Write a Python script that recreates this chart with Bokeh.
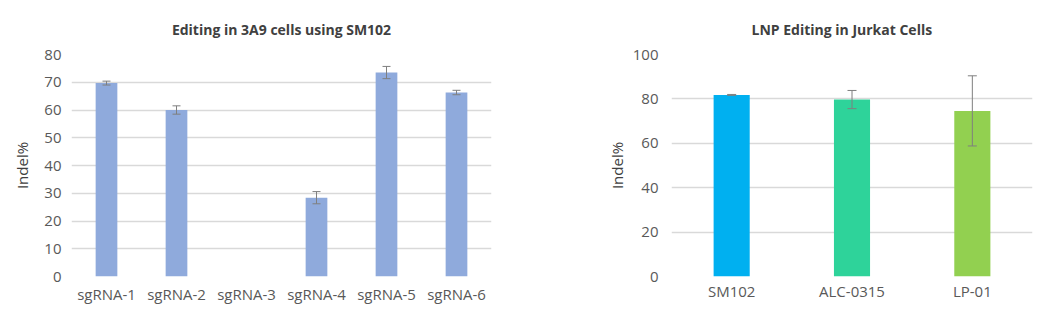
from bokeh.plotting import figure
from bokeh.models import ColumnDataSource, Whisker, TeeHead, FixedTicker, Range1d, FactorRange
from bokeh.layouts import row
from bokeh.embed import file_html
from bokeh.resources import INLINE

# ---- data ----
sg_title = "Editing in 3A9 cells using SM102"
sg_labels = ["sgRNA-1", "sgRNA-2", "sgRNA-3", "sgRNA-4", "sgRNA-5", "sgRNA-6"]
sg_values = [69.7, 60.0, 0.0, 28.4, 73.5, 66.3]
sg_errors = [0.7, 1.5, 0.0, 2.2, 2.2, 0.8]
sg_ticks = [0, 10, 20, 30, 40, 50, 60, 70, 80]

lnp_title = "LNP Editing in Jurkat Cells"
lnp_labels = ["SM102", "ALC-0315", "LP-01"]
lnp_values = [81.8, 79.7, 74.6]
lnp_errors = [0.2, 4.1, 15.8]
lnp_colors = ["#00B0F0", "#2ED39A", "#92D050"]
lnp_ticks = [0, 20, 40, 60, 80, 100]

FONT = "Open Sans"
TICK_COLOR = "#595959"
GRID = "#d9d9d9"
ERR = "#7f7f7f"


def style(p, ticks, title):
    p.title.text = title
    p.title.align = "center"
    p.title.vertical_align = "top"
    p.title.standoff = 27
    p.title.text_font = FONT
    p.title.text_font_size = "14px"
    p.title.text_font_style = "bold"
    p.title.text_color = "#404040"
    p.outline_line_color = None
    p.xgrid.grid_line_color = None
    p.ygrid.grid_line_color = GRID
    p.ygrid.grid_line_width = 1.5
    p.yaxis.ticker = FixedTicker(ticks=ticks)
    for ax in (p.xaxis[0], p.yaxis[0]):
        ax.axis_line_color = None
        ax.major_tick_line_color = None
        ax.minor_tick_line_color = None
        ax.major_label_text_font = FONT
        ax.major_label_text_font_size = "15px"
        ax.major_label_text_color = TICK_COLOR
    p.yaxis.axis_label = "Indel%"
    p.yaxis.axis_label_text_font = FONT
    p.yaxis.axis_label_text_font_size = "15px"
    p.yaxis.axis_label_text_font_style = "normal"
    p.yaxis.axis_label_text_color = "#404040"
    p.x_range.range_padding = 0


# ---- left chart ----
p1 = figure(width=530, height=315, x_range=FactorRange(*sg_labels), y_range=Range1d(0, 80),
            output_backend="svg", toolbar_location=None,
            min_border_left=71, min_border_right=39, min_border_top=54, min_border_bottom=39)
style(p1, sg_ticks, sg_title)
p1.yaxis.major_label_standoff = 4
p1.yaxis.axis_label_standoff = 9
p1.xaxis.major_label_standoff = 1
src1 = ColumnDataSource(dict(x=sg_labels, top=sg_values))
p1.vbar(x="x", top="top", width=0.31, source=src1, fill_color="#8FAADC", line_color=None)
wx = [l for l, v in zip(sg_labels, sg_values) if v > 0]
wu = [v + e for v, e in zip(sg_values, sg_errors) if v > 0]
wl = [v - e for v, e in zip(sg_values, sg_errors) if v > 0]
wsrc1 = ColumnDataSource(dict(x=wx, upper=wu, lower=wl))
p1.add_layout(Whisker(base="x", upper="upper", lower="lower", source=wsrc1, line_color=ERR,
                      line_width=1, level="overlay",
                      upper_head=TeeHead(size=8, line_color=ERR, line_width=1),
                      lower_head=TeeHead(size=8, line_color=ERR, line_width=1)))

# ---- right chart ----
p2 = figure(width=533, height=315, x_range=FactorRange(*lnp_labels), y_range=Range1d(0, 100),
            output_backend="svg", toolbar_location=None,
            min_border_left=141, min_border_right=31, min_border_top=53, min_border_bottom=38)
style(p2, lnp_ticks, lnp_title)
p2.title.align = "left"
p2.title.offset = 80
p2.yaxis.major_label_standoff = 7
p2.yaxis.axis_label_standoff = 3
p2.xaxis.major_label_standoff = -2
src2 = ColumnDataSource(dict(x=lnp_labels, top=lnp_values, c=lnp_colors))
p2.vbar(x="x", top="top", width=0.3, source=src2, fill_color="c", line_color=None)
wsrc2 = ColumnDataSource(dict(x=lnp_labels,
                              upper=[v + e for v, e in zip(lnp_values, lnp_errors)],
                              lower=[v - e for v, e in zip(lnp_values, lnp_errors)]))
p2.add_layout(Whisker(base="x", upper="upper", lower="lower", source=wsrc2, line_color=ERR,
                      line_width=1, level="overlay",
                      upper_head=TeeHead(size=9, line_color=ERR, line_width=1),
                      lower_head=TeeHead(size=9, line_color=ERR, line_width=1)))

layout = row(p1, p2)
open("out.html", "w").write(file_html(layout, INLINE))
